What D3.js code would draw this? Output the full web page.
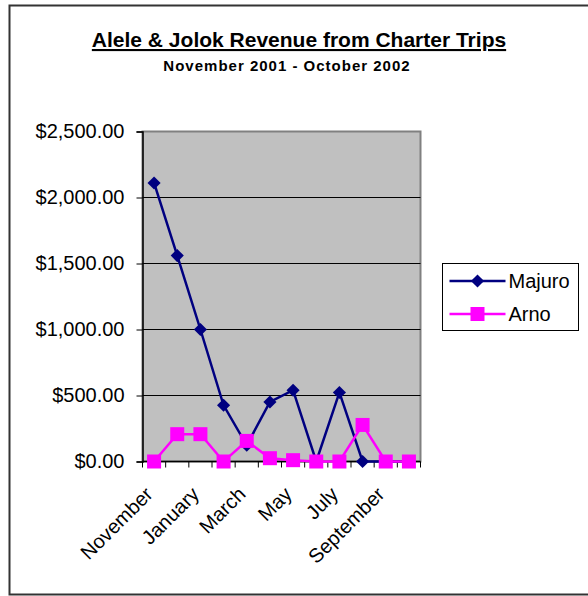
<!DOCTYPE html>
<html>
<head>
<meta charset="utf-8">
<script src="https://cdn.jsdelivr.net/npm/d3@7"></script>
<style>
  body { margin: 0; background: #fff; }
  text { font-family: Arial, "Liberation Sans", sans-serif; }
</style>
</head>
<body>
<div id="chart"></div>
<script>
// monthly charter revenue, Nov 2001 - Oct 2002
var months = ["November", "December", "January", "February", "March", "April",
  "May", "June", "July", "August", "September", "October"];
var majuro = [2110, 1560, 1000, 426, 123, 451, 540, 0, 523, 0, 0, 0];
var arno = [0, 207, 207, 0, 156, 25, 10, 0, 0, 277, 0, 0];
var yTicks = [0, 500, 1000, 1500, 2000, 2500];

var svgWidth = 588;
var svgHeight = 596;
var margin = { top: 131.5, left: 142.5 };
var width = 278;
var height = 330;

var svg = d3.select("#chart")
  .append("svg")
  .attr("width", svgWidth)
  .attr("height", svgHeight);

// outer chart border
svg.append("rect")
  .attr("x", 9.5).attr("y", 5.5)
  .attr("width", 590).attr("height", 589)
  .attr("fill", "none")
  .attr("stroke", "#333")
  .attr("stroke-width", 2);

// titles
svg.append("text")
  .attr("x", 299).attr("y", 47)
  .attr("text-anchor", "middle")
  .attr("font-size", "21px")
  .attr("font-weight", "bold")
  .attr("text-decoration", "underline")
  .text("Alele & Jolok Revenue from Charter Trips");

svg.append("text")
  .attr("x", 287).attr("y", 71)
  .attr("text-anchor", "middle")
  .attr("font-size", "15px")
  .attr("font-weight", "bold")
  .attr("letter-spacing", "1px")
  .text("November 2001 - October 2002");

var chartGroup = svg.append("g")
  .attr("transform", `translate(${margin.left}, ${margin.top})`);

var xScale = d3.scaleBand()
  .domain(months)
  .range([0, width]);

var yScale = d3.scaleLinear()
  .domain([0, 2500])
  .range([height, 0]);

// plot area
chartGroup.append("rect")
  .attr("width", width).attr("height", height)
  .attr("fill", "#c0c0c0")
  .attr("stroke", "#808080")
  .attr("stroke-width", 2);

// gridlines
chartGroup.selectAll(".grid")
  .data(yTicks.slice(1, -1))
  .enter()
  .append("line")
  .attr("x1", 0).attr("x2", width)
  .attr("y1", d => yScale(d)).attr("y2", d => yScale(d))
  .attr("stroke", "#000")
  .attr("stroke-width", 1);

// y axis
var yAxis = d3.axisLeft(yScale)
  .tickValues(yTicks)
  .tickSize(6)
  .tickPadding(12)
  .tickFormat(d => "$" + d3.format(",.2f")(d));

var yAxisG = chartGroup.append("g").call(yAxis);
yAxisG.select(".domain").attr("stroke", "#000").attr("stroke-width", 1.5);
yAxisG.selectAll("text")
  .attr("font-size", "20px")
  .attr("fill", "#000");

// x axis: ticks between categories
var xAxisG = chartGroup.append("g")
  .attr("transform", `translate(0, ${height})`);
xAxisG.append("line")
  .attr("x1", 0).attr("x2", width)
  .attr("stroke", "#000").attr("stroke-width", 1.5);
xAxisG.selectAll(".tick")
  .data(d3.range(months.length + 1))
  .enter()
  .append("line")
  .attr("x1", i => i * xScale.step()).attr("x2", i => i * xScale.step())
  .attr("y1", 0).attr("y2", 6)
  .attr("stroke", "#000");

xAxisG.selectAll(".label")
  .data(months.filter((m, i) => i % 2 === 0))
  .enter()
  .append("text")
  .attr("text-anchor", "end")
  .attr("font-size", "20px")
  .attr("transform", d => `translate(${xScale(d) + xScale.bandwidth() / 2}, 34) rotate(-45)`)
  .text(d => d);

var cx = (d, i) => xScale(months[i]) + xScale.bandwidth() / 2;

var line = d3.line()
  .x((d, i) => cx(d, i))
  .y(d => yScale(d));

// Majuro series
chartGroup.append("path")
  .datum(majuro)
  .attr("d", line)
  .attr("fill", "none")
  .attr("stroke", "#000080")
  .attr("stroke-width", 2.5);

var diamond = d3.symbol().type(d3.symbolDiamond2).size(110);
chartGroup.selectAll(".majuro")
  .data(majuro)
  .enter()
  .append("path")
  .attr("d", diamond)
  .attr("transform", (d, i) => `translate(${cx(d, i)}, ${yScale(d)})`)
  .attr("fill", "#000080");

// Arno series
chartGroup.append("path")
  .datum(arno)
  .attr("d", line)
  .attr("fill", "none")
  .attr("stroke", "#ff00ff")
  .attr("stroke-width", 2.5);

chartGroup.selectAll(".arno")
  .data(arno)
  .enter()
  .append("rect")
  .attr("x", (d, i) => cx(d, i) - 7)
  .attr("y", d => yScale(d) - 7)
  .attr("width", 14).attr("height", 14)
  .attr("fill", "#ff00ff");

// legend
var legend = svg.append("g").attr("transform", "translate(442.5, 263.5)");
legend.append("rect")
  .attr("width", 136).attr("height", 67)
  .attr("fill", "#fff")
  .attr("stroke", "#000")
  .attr("stroke-width", 1);

var legendItems = [
  { name: "Majuro", color: "#000080", shape: "diamond" },
  { name: "Arno", color: "#ff00ff", shape: "square" }
];
var items = legend.selectAll(".item")
  .data(legendItems)
  .enter()
  .append("g")
  .attr("transform", (d, i) => `translate(0, ${17.5 + i * 33})`);
items.append("line")
  .attr("x1", 7).attr("x2", 63)
  .attr("stroke", d => d.color)
  .attr("stroke-width", 2.5);
items.filter(d => d.shape === "diamond")
  .append("path")
  .attr("d", diamond)
  .attr("transform", "translate(35, 0)")
  .attr("fill", d => d.color);
items.filter(d => d.shape === "square")
  .append("rect")
  .attr("x", 28).attr("y", -7)
  .attr("width", 14).attr("height", 14)
  .attr("fill", d => d.color);
items.append("text")
  .attr("x", 66).attr("y", 7)
  .attr("font-size", "20px")
  .text(d => d.name);
</script>
</body>
</html>
